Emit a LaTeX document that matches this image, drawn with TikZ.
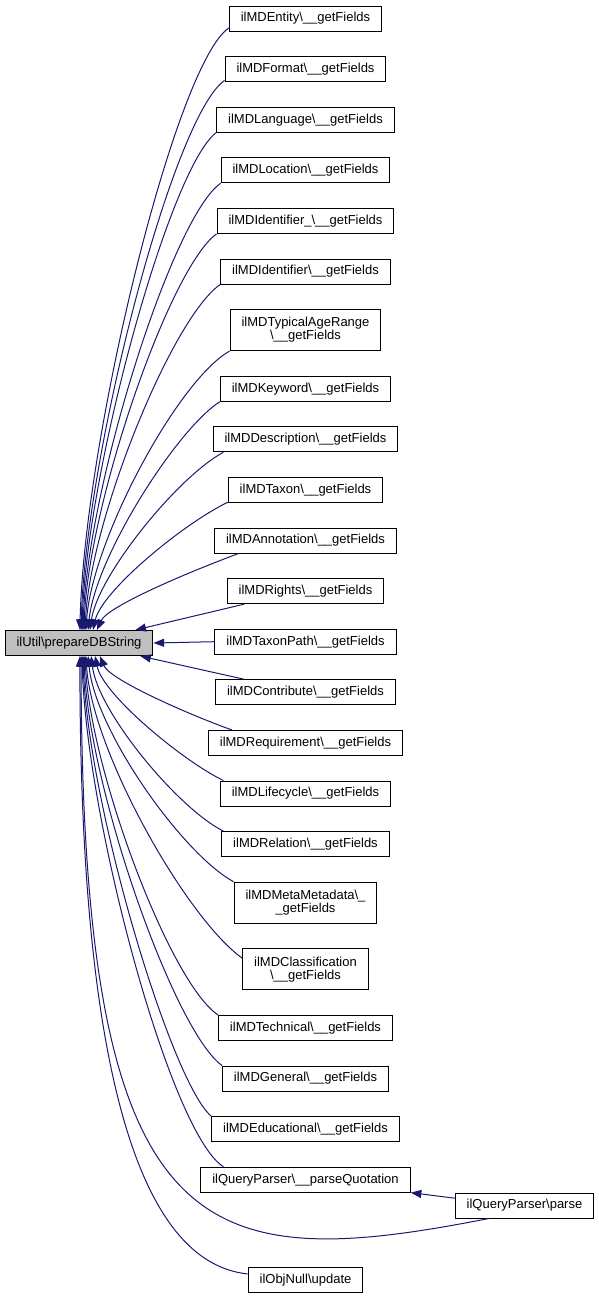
\documentclass[tikz,border=0pt]{standalone}
\usepackage{fontspec}
\setmainfont{Liberation Sans}
\usetikzlibrary{arrows.meta, positioning}
\definecolor{edgeblue}{HTML}{191970}
\newcommand{\fieldsfn}{\textbackslash\_\_getFields}

\begin{document}
\begin{tikzpicture}[x=0.75pt, y=-0.75pt,
    box/.style={draw, line width=0.75pt, fill=white, inner xsep=8.6pt, minimum height=18.75pt, font=\fontsize{9.75}{9.75}\selectfont},
    twoline/.style={box, align=center, minimum height=30.75pt},
    call/.style={<-, >={Triangle[length=8pt, width=6pt]}, draw=edgeblue, line width=0.75pt}]
    \useasboundingbox (0,0) rectangle (599,1300);

    \node[box, fill=black!25] (main) at (79,643) {ilUtil\textbackslash prepareDBString};

    \node[box] (entity) at (305.5,18.5) {ilMDEntity\fieldsfn};
    \node[box, below=18.45pt of entity] (format) {ilMDFormat\fieldsfn};
    \node[box, below=18.45pt of format] (language) {ilMDLanguage\fieldsfn};
    \node[box, below=18.45pt of language] (location) {ilMDLocation\fieldsfn};
    \node[box, below=18.45pt of location] (identu) {ilMDIdentifier\_\fieldsfn};
    \node[box, below=18.45pt of identu] (ident) {ilMDIdentifier\fieldsfn};
    \node[twoline, below=18.45pt of ident] (agerange) {ilMDTypicalAgeRange\\\fieldsfn};
    \node[box, below=18.45pt of agerange] (keyword) {ilMDKeyword\fieldsfn};
    \node[box, below=18.45pt of keyword] (description) {ilMDDescription\fieldsfn};
    \node[box, below=18.45pt of description] (taxon) {ilMDTaxon\fieldsfn};
    \node[box, below=18.45pt of taxon] (annotation) {ilMDAnnotation\fieldsfn};
    \node[box, below=18.45pt of annotation] (rights) {ilMDRights\fieldsfn};
    \node[box, below=18.45pt of rights] (taxonpath) {ilMDTaxonPath\fieldsfn};
    \node[box, below=18.45pt of taxonpath] (contribute) {ilMDContribute\fieldsfn};
    \node[box, below=18.45pt of contribute] (requirement) {ilMDRequirement\fieldsfn};
    \node[box, below=18.45pt of requirement] (lifecycle) {ilMDLifecycle\fieldsfn};
    \node[box, below=18.45pt of lifecycle] (relation) {ilMDRelation\fieldsfn};
    \node[twoline, below=18.45pt of relation] (metameta) {ilMDMetaMetadata\textbackslash\_\\\_getFields};
    \node[twoline, below=18.45pt of metameta] (classification) {ilMDClassification\\\fieldsfn};
    \node[box, below=18.45pt of classification] (technical) {ilMDTechnical\fieldsfn};
    \node[box, below=18.45pt of technical] (general) {ilMDGeneral\fieldsfn};
    \node[box, below=18.45pt of general] (educational) {ilMDEducational\fieldsfn};
    \node[box, below=18.45pt of educational] (quotation) {ilQueryParser\textbackslash\_\_parseQuotation};
    \node[box, below=55.75pt of quotation] (objnull) {ilObjNull\textbackslash update};
    \node[box] (parse) at (524.5,1205.5) {ilQueryParser\textbackslash parse};

    % callers above
    \draw[call] (main.86) .. controls (84,440) and (175.5,64) .. (entity.187);
    \draw[call] (main.81) .. controls (85,456) and (173,116) .. (format.188);
    \draw[call] (main.77) .. controls (86,472) and (170,167) .. (language.south west);
    \draw[call] (main.73) .. controls (87,488) and (172,217.5) .. (location.south west);
    \draw[call] (main.69) .. controls (88,504) and (170,267) .. (identu.south west);
    \draw[call] (main.65) .. controls (90,520) and (172,318) .. (ident.south west);
    \draw[call] (main.62) .. controls (92,540) and (178,380) .. (agerange.south west);
    \draw[call] (main.55) .. controls (95,558) and (176,430) .. (keyword.south west);
    \draw[call] (main.50) .. controls (98,575) and (178,476.5) .. (description.189);
    \draw[call] (main.43) .. controls (102,591) and (182,524.5) .. (taxon.189);
    \draw[call] (main.36) .. controls (108,606) and (190,571.5) .. (annotation.191);
    \draw[call] (main.13) -- (rights.192);
    \draw[call] (main.east) -- (taxonpath.west);

    % callers below
    \draw[call] (main.-12) -- (contribute.168);
    \draw[call] (main.-32) .. controls (110,680) and (190,715) .. (requirement.170);
    \draw[call] (main.-39) .. controls (103,695) and (183,761) .. (lifecycle.171);
    \draw[call] (main.-47) .. controls (98,712) and (178,808.5) .. (relation.171);
    \draw[call] (main.-55) .. controls (95,730) and (182,853.5) .. (metameta.north west);
    \draw[call] (main.-62) .. controls (92,752) and (187,919) .. (classification.170);
    \draw[call] (main.-65) .. controls (90,770) and (170,983) .. (technical.north west);
    \draw[call] (main.-69) .. controls (88,786) and (174,1031) .. (general.north west);
    \draw[call] (main.-73) .. controls (87,802) and (171,1082) .. (educational.north west);
    \draw[call] (main.-77) .. controls (86,818) and (170,1133) .. (quotation.171);
    \draw[call] (main.-81) .. controls (82,1250) and (200,1275) .. (parse.200);
    \draw[call] (main.-86) .. controls (80,1150) and (165,1265) .. (objnull.174);
    \draw[call] (quotation.-7) -- (parse.174);
\end{tikzpicture}
\end{document}
